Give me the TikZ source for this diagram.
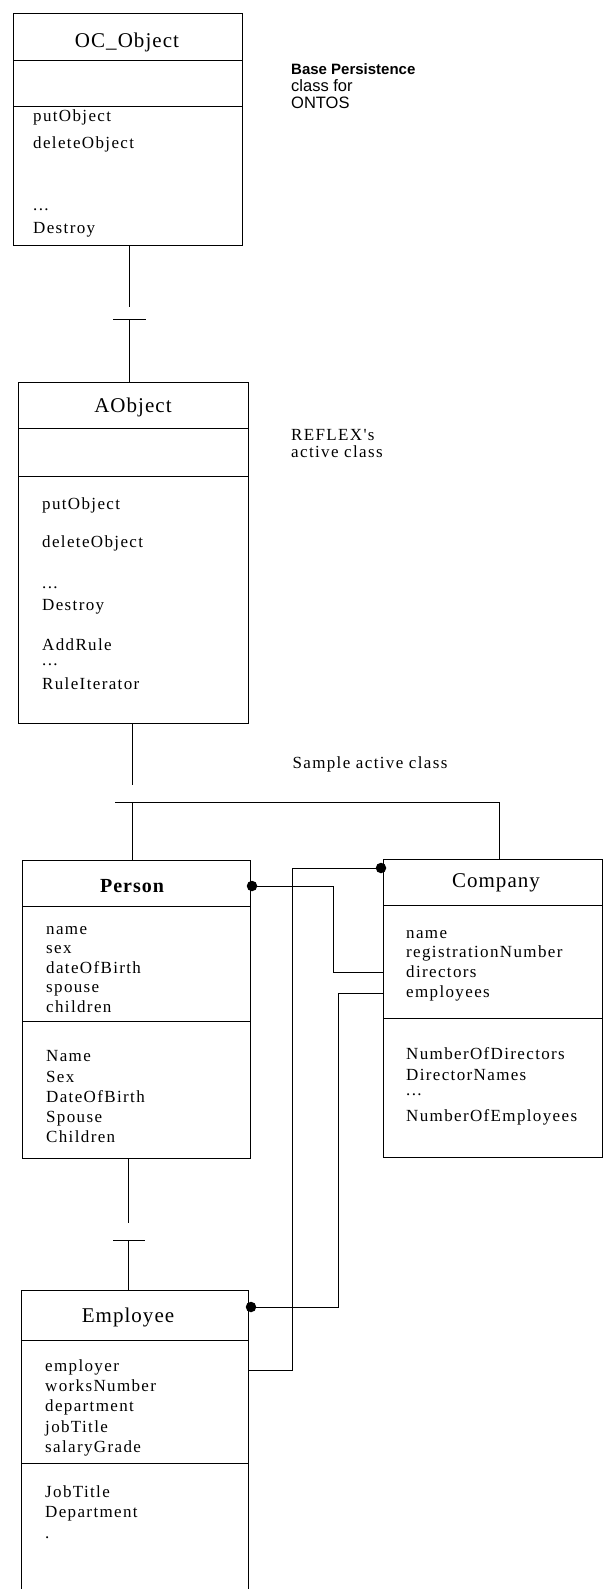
\documentclass[tikz,border=0pt]{standalone}
\usepackage{fontspec}
\usetikzlibrary{calc}
\setmainfont{Liberation Serif}
\newfontfamily\itemfam[LetterSpace=8]{Liberation Serif}
\newfontfamily\titlefam[LetterSpace=5]{Liberation Serif}
\newfontfamily\notefam{Liberation Sans}
\begin{document}
\begin{tikzpicture}[x=1pt,y=-1pt,
  cls/.style={draw, line width=1pt, inner sep=0pt, anchor=north west},
  open/.style={draw=none, inner sep=0pt, anchor=north west},
  sep/.style={line width=1pt},
  ttl/.style={inner sep=0pt, font=\titlefam\fontsize{21}{24}\selectfont},
  itm/.style={inner sep=0pt, anchor=west, text height=12pt, text depth=4pt, font=\itemfam\fontsize{17}{20}\selectfont},
  conn/.style={line width=0.9pt},
  ball/.style={circle, fill=black, inner sep=0pt, minimum size=10.5pt},
  note/.style={inner sep=0pt, anchor=north west, align=left}]
\useasboundingbox (0,0) rectangle (604,1589);

% ---------- OC_Object ----------
\node[cls, minimum width=229pt, minimum height=232pt] (oc) at (13,13) {};
\draw[sep] (13,61) -- (242,61);
\draw[sep] (13,107) -- (242,107);
\node[ttl] (octitle) at (127,42) {OC\_Object};
\node[itm] (oc1) at (33,118) {putObject};
\node[itm] (oc2) at (33,145) {deleteObject};
\node[itm] (oc3) at (33,207) {...};
\node[itm] (oc4) at (33,230) {Destroy};
\node[note, font=\notefam\fontsize{16.5}{17}\selectfont] (ocnote) at (291,63) {{\bfseries\fontsize{15}{17}\selectfont Base Persistence}\\class for\\ONTOS};

% ---------- AObject ----------
\node[cls, minimum width=230pt, minimum height=341pt] (ao) at (18,382) {};
\draw[sep] (18,428) -- (248,428);
\draw[sep] (18,476) -- (248,476);
\node[ttl] (aotitle) at (133,407) {AObject};
\node[itm] (ao1) at (42,505) {putObject};
\node[itm] (ao2) at (42,543) {deleteObject};
\node[itm] (ao3) at (42,584) {...};
\node[itm] (ao4) at (42,606) {Destroy};
\node[itm] (ao5) at (42,646) {AddRule};
\node[itm] (ao6) at (42,661) {...};
\node[itm] (ao7) at (42,685) {RuleIterator};
\node[note, font=\itemfam\fontsize{17}{17}\selectfont] (aonote) at (291,429) {REFLEX's\\active class};

% ---------- Person ----------
\node[cls, minimum width=228pt, minimum height=298pt] (per) at (22,860) {};
\draw[sep] (22,906) -- (250,906);
\draw[sep] (22,1021) -- (250,1021);
\node[ttl, font=\titlefam\bfseries\fontsize{20}{24}\selectfont] (pertitle) at (132,886) {Person};
\node[itm] (pa1) at (46,930) {name};
\node[itm] (pa2) at (46,949) {sex};
\node[itm] (pa3) at (46,969) {dateOfBirth};
\node[itm] (pa4) at (46,988) {spouse};
\node[itm] (pa5) at (46,1008) {children};
\node[itm] (pm1) at (46,1057) {Name};
\node[itm] (pm2) at (46,1078) {Sex};
\node[itm] (pm3) at (46,1098) {DateOfBirth};
\node[itm] (pm4) at (46,1118) {Spouse};
\node[itm] (pm5) at (46,1138) {Children};

% ---------- Company ----------
\node[cls, minimum width=219pt, minimum height=298pt] (com) at (383,859) {};
\draw[sep] (383,905) -- (602,905);
\draw[sep] (383,1018) -- (602,1018);
\node[ttl] (comtitle) at (496,883) {Company};
\node[itm] (ca1) at (406,934) {name};
\node[itm] (ca2) at (406,953) {registrationNumber};
\node[itm] (ca3) at (406,973) {directors};
\node[itm] (ca4) at (406,993) {employees};
\node[itm] (cm1) at (406,1055) {NumberOfDirectors};
\node[itm] (cm2) at (406,1076) {DirectorNames};
\node[itm] (cm3) at (406,1091) {...};
\node[itm] (cm4) at (406,1117) {NumberOfEmployees};

% ---------- Employee (open at bottom) ----------
\node[open, minimum width=227pt, minimum height=302pt] (emp) at (21,1290) {};
\draw[sep] (emp.south west) |- (emp.north east) -- (emp.south east);
\draw[sep] (21,1340) -- (248,1340);
\draw[sep] (21,1463) -- (248,1463);
\node[ttl] (emptitle) at (128,1317) {Employee};
\node[itm] (ea1) at (45,1367) {employer};
\node[itm] (ea2) at (45,1387) {worksNumber};
\node[itm] (ea3) at (45,1407) {department};
\node[itm] (ea4) at (45,1428) {jobTitle};
\node[itm] (ea5) at (45,1448) {salaryGrade};
\node[itm] (em1) at (45,1493) {JobTitle};
\node[itm] (em2) at (45,1513) {Department};
\node[itm] (em3) at (45,1534) {.};

% ---------- labels ----------
\node[inner sep=0pt, font=\itemfam\fontsize{17}{20}\selectfont] (sample) at (370,764) {Sample active class};

% ---------- generalisation OC_Object -> AObject ----------
\coordinate (g1) at (129,319);
\draw[conn] (g1 |- oc.south) -- ($(g1)+(0,-12)$);
\draw[conn] ($(g1)+(-16,0)$) -- ($(g1)+(17,0)$);
\draw[conn] (g1) -- (g1 |- ao.north);

% ---------- generalisation AObject -> Person, Company ----------
\coordinate (g2) at (132,802);
\coordinate (g2r) at (499,802);
\draw[conn] (g2 |- ao.south) -- ($(g2)+(0,-17)$);
\draw[conn] ($(g2)+(-17,0)$) -- (g2r);
\draw[conn] (g2) -- (g2 |- per.north);
\draw[conn] (g2r) -- (g2r |- com.north);

% ---------- generalisation Person -> Employee ----------
\coordinate (g3) at (128,1240);
\draw[conn] (g3 |- per.south) -- ($(g3)+(0,-17)$);
\draw[conn] ($(g3)+(-15,0)$) -- ($(g3)+(17,0)$);
\draw[conn] (g3) -- (g3 |- emp.north);

% ---------- associations ----------
\node[ball] (pball) at (252,886) {};
\node[ball] (cball) at (381,868) {};
\node[ball] (eball) at (251,1307) {};
\coordinate (d1) at (333,886);
\coordinate (d2) at (333,972);
\draw[conn] (pball.center) -- (d1) -- (d2) -- (d2 -| com.west);
\coordinate (k1) at (292,868);
\coordinate (k2) at (292,1370);
\draw[conn] (cball.center) -- (k1) -- (k2) -- (k2 -| emp.east);
\coordinate (m1) at (338,993);
\coordinate (m2) at (338,1307);
\draw[conn] (m1 -| com.west) -- (m1) -- (m2) -- (eball.center);
\end{tikzpicture}
\end{document}
